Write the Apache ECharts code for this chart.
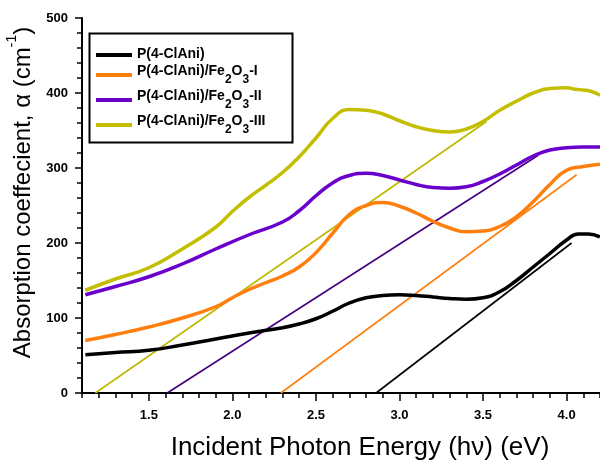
<!DOCTYPE html>
<html>
<head>
<meta charset="utf-8">
<script src="https://cdn.jsdelivr.net/npm/echarts@6/dist/echarts.min.js"></script>
<style>html,body{margin:0;padding:0;background:#fff}#c{width:600px;height:463px}</style>
</head>
<body>
<div id="c"></div>
<script>
// ---- data ----
const seriesNames = ['P(4-ClAni)', 'P(4-ClAni)/Fe2O3-I', 'P(4-ClAni)/Fe2O3-II', 'P(4-ClAni)/Fe2O3-III'];

const energyBlack = [1.12,1.3,1.5,1.7,1.9,2.1,2.3,2.4,2.5,2.6,2.7,2.8,2.9,3.0,3.1,3.2,3.3,3.4,3.5,3.6,3.7,3.8,3.9,4.0,4.07,4.13,4.2];
const alphaBlack  = [51,54,57,64,72,80,87,92,99,109,120,127,130,131,130,128,126,125,127,135,150,168,186,204,212,212,208];

const energyOrange = [1.12,1.3,1.5,1.7,1.9,2.0,2.1,2.2,2.3,2.4,2.5,2.6,2.7,2.8,2.9,3.0,3.1,3.2,3.3,3.4,3.5,3.6,3.7,3.8,3.9,4.0,4.1,4.2];
const alphaOrange  = [70,78,88,100,115,127,138,147,156,168,187,213,238,250,254,249,240,229,220,215,216,222,235,255,278,297,302,305];

const energyPurple = [1.12,1.3,1.5,1.7,1.9,2.1,2.3,2.4,2.5,2.6,2.7,2.8,2.9,3.0,3.1,3.2,3.3,3.4,3.5,3.6,3.7,3.8,3.9,4.0,4.1,4.2];
const alphaPurple  = [131,142,155,172,192,211,228,243,263,280,290,293,290,284,278,274,273,275,282,292,304,316,324,327,328,328];

const energyYellow = [1.12,1.3,1.5,1.7,1.9,2.0,2.1,2.2,2.3,2.4,2.5,2.6,2.7,2.8,2.9,3.0,3.1,3.2,3.3,3.4,3.5,3.6,3.7,3.8,3.9,4.0,4.05,4.1,4.15,4.2];
const alphaYellow  = [137,152,167,192,221,242,261,277,294,315,340,366,378,377,372,363,355,350,348,352,362,377,389,400,406,407,405,404,402,397];

// tangent fit lines: [energy, alpha] end points
const fitBlack  = [[2.86,0],[4.03,200]];
const fitOrange = [[2.29,0],[4.06,291]];
const fitPurple = [[1.61,0],[3.83,317]];
const fitYellow = [[1.18,0],[3.52,362]];

// axis ticks
const xMajorTicks = [1.5,2.0,2.5,3.0,3.5,4.0];
const xMinorTicks = [1.1,1.2,1.3,1.4,1.5,1.6,1.7,1.8,1.9,2.0,2.1,2.2,2.3,2.4,2.5,2.6,2.7,2.8,2.9,3.0,3.1,3.2,3.3,3.4,3.5,3.6,3.7,3.8,3.9,4.0,4.1,4.2];
const yTicks = [0,100,200,300,400,500];

// ---- chart ----
const colors = ['#000000','#FF7F0E','#6A00CC','#C4BE00'];
const fitColors = ['#000000','#FF7F0E','#45007F','#BDB800'];
const zip = (xs, ys) => xs.map((x,i)=>[x, ys[i]]);

const curves = [zip(energyBlack,alphaBlack), zip(energyOrange,alphaOrange), zip(energyPurple,alphaPurple), zip(energyYellow,alphaYellow)];
const fits = [fitBlack, fitOrange, fitPurple, fitYellow];

const series = [];
fits.forEach((f,i)=>series.push({
  type:'line', name:'fit'+i, data:f, showSymbol:false, symbol:'none', silent:true,
  lineStyle:{color:fitColors[i], width:1.6}, z:2
}));
curves.forEach((c,i)=>series.push({
  type:'line', name:seriesNames[i], data:c, smooth:0.5, showSymbol:false, symbol:'none',
  lineStyle:{color:colors[i], width:3.5}, itemStyle:{color:colors[i]}, z:3
}));

function legendFmt(n){
  const m = n.match(/^(.*)Fe2O3(.*)$/);
  if(!m) return '{b|'+n+'}';
  return '{b|'+m[1]+'Fe}{s|2}{b|O}{s|3}{b|'+m[2]+'}';
}

const chart = echarts.init(document.getElementById('c'), null, {renderer:'canvas'});
chart.setOption({
  animation:false,
  backgroundColor:'#fff',
  grid:{left:82, right:0, top:18, bottom:70, containLabel:false, outerBoundsMode:'none'},
  graphic:[{
    type:'rect', left:87, top:31, z:10, silent:true,
    shape:{width:203, height:109},
    style:{fill:null, stroke:'#000', lineWidth:2}
  }],
  legend:{
    data:seriesNames, orient:'vertical', left:87, top:34,
    borderWidth:0, padding:[13,24,6,9], itemGap:3,
    icon:'rect', itemWidth:36, itemHeight:4,
    formatter:legendFmt,
    textStyle:{
      fontFamily:'Liberation Sans, Arial', color:'#000',
      rich:{
        b:{fontFamily:'Liberation Sans, Arial', fontWeight:'bold', fontSize:14, lineHeight:16, verticalAlign:'top', color:'#000'},
        s:{fontFamily:'Liberation Sans, Arial', fontWeight:'bold', fontSize:12, lineHeight:22, verticalAlign:'bottom', color:'#000'}
      }
    }
  },
  xAxis:[{
    type:'value', min:1.1, max:4.2, position:'bottom',
    name:'Incident Photon Energy (hν) (eV)', nameLocation:'middle', nameGap:42,
    nameTextStyle:{fontFamily:'Liberation Sans, Arial', fontSize:26, color:'#000', padding:[0,0,0,38]},
    axisLine:{show:true, onZero:false, lineStyle:{color:'#000', width:2}},
    axisTick:{show:true, customValues:xMajorTicks, length:8, lineStyle:{color:'#000', width:1.5}},
    axisLabel:{customValues:xMajorTicks, margin:16, fontFamily:'Liberation Sans, Arial', fontWeight:'bold', fontSize:13, color:'#000', formatter:v=>v.toFixed(1)},
    splitLine:{show:false}
  },{
    type:'value', min:1.1, max:4.2, position:'bottom', offset:0,
    axisLine:{show:false},
    axisTick:{show:true, customValues:xMinorTicks, length:5, lineStyle:{color:'#000', width:1.5}},
    axisLabel:{show:false}, splitLine:{show:false}
  }],
  yAxis:{
    type:'value', min:0, max:500, interval:100,
    name:'{t|Absorption coeffecient, α (cm}{p|-1}{t|)}', nameLocation:'middle', nameGap:44, nameRotate:90,
    nameTextStyle:{
      padding:[0,0,0,26],
      rich:{
        t:{fontFamily:'Liberation Sans, Arial', fontSize:24, color:'#000', lineHeight:30, verticalAlign:'bottom'},
        p:{fontFamily:'Liberation Sans, Arial', fontSize:14, color:'#000', lineHeight:30, verticalAlign:'top'}
      }
    },
    axisLine:{show:true, lineStyle:{color:'#000', width:2}},
    axisTick:{show:true, length:7, lineStyle:{color:'#000', width:1.5}},
    minorTick:{show:true, splitNumber:5, length:5, lineStyle:{color:'#000', width:1.5}},
    axisLabel:{margin:14, fontFamily:'Liberation Sans, Arial', fontWeight:'bold', fontSize:13, color:'#000'},
    splitLine:{show:false}, minorSplitLine:{show:false}
  },
  series: series.map(s=>Object.assign(s,{xAxisIndex:0, yAxisIndex:0}))
});
</script>
</body>
</html>
